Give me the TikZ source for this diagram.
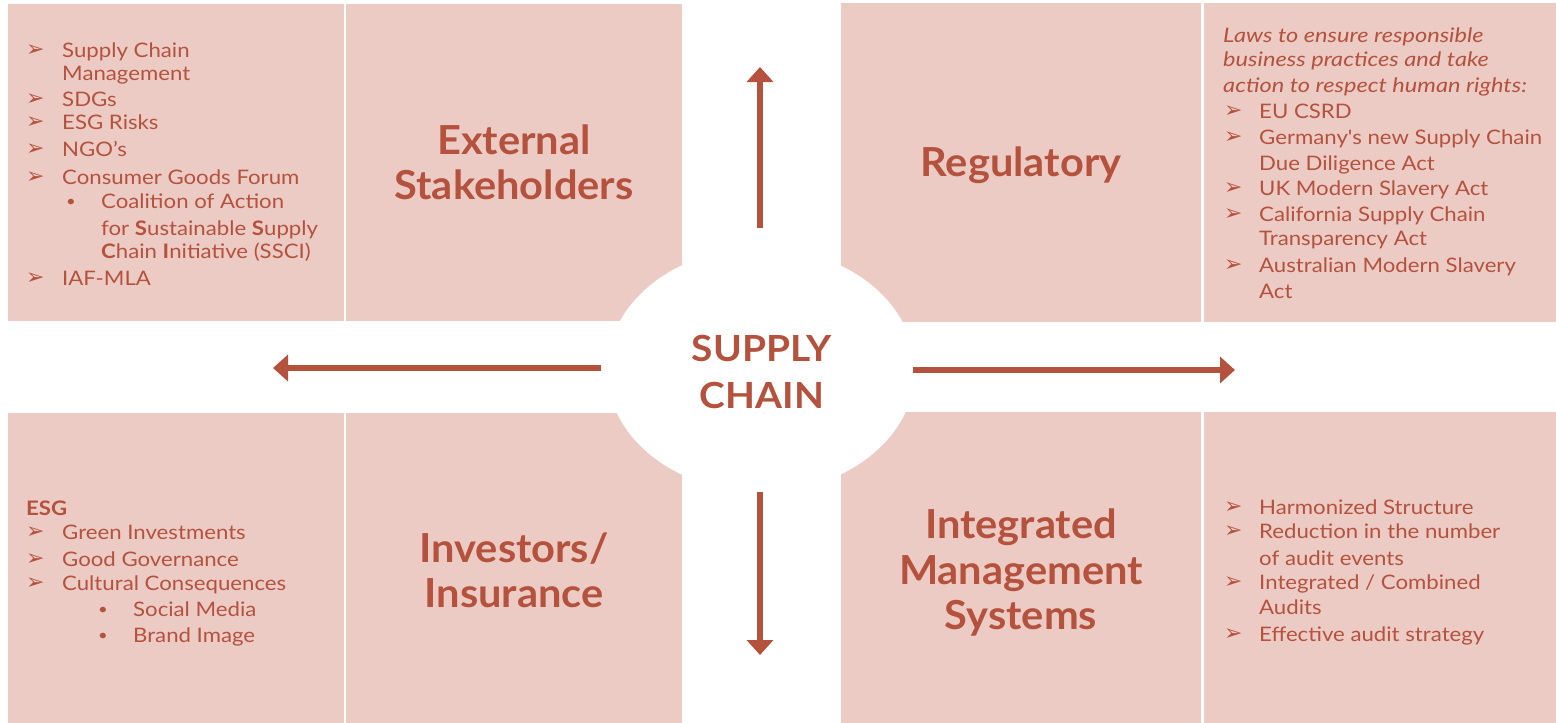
\documentclass[tikz,border=0pt]{standalone}
\usepackage{fontspec}
\setmainfont{Lato}
\newfontfamily\bodyfont{Lato}[FakeStretch=1.11]
\newfontfamily\itbodyfont{Lato}[FakeStretch=1.18]
\newfontfamily\headfont{Lato}[FakeStretch=1.04]
\newfontfamily\corefont{Lato}[FakeStretch=1.08]
\newfontfamily\symfont{DejaVu Sans}
\usetikzlibrary{arrows.meta,shapes.geometric}
\definecolor{boxc}{RGB}{236,203,197}
\definecolor{redc}{RGB}{180,82,62}
\tikzset{
  box/.style={fill=boxc, draw=none},
  txt/.style={text=redc, font=\bodyfont\fontsize{20}{24}\selectfont, anchor=base west, inner sep=0pt},
  itxt/.style={text=redc, font=\itbodyfont\itshape\fontsize{20}{24}\selectfont, anchor=base west, inner sep=0pt},
  btxt/.style={text=redc, font=\bodyfont\bfseries\fontsize{20}{24}\selectfont, anchor=base west, inner sep=0pt},
  mk/.style={text=redc, font=\symfont\fontsize{22}{24}\selectfont, anchor=base west, inner sep=0pt},
  dot/.style={text=redc, font=\bodyfont\fontsize{15}{18}\selectfont, anchor=base west, inner sep=0pt},
  head/.style={text=redc, font=\headfont\bfseries\fontsize{40}{48}\selectfont, anchor=base, inner sep=0pt},
  core/.style={text=redc, font=\corefont\bfseries\fontsize{36}{44}\selectfont, anchor=base, inner sep=0pt},
  conn/.style={draw=redc, line width=6pt, -{Triangle[length=15pt,width=26pt]}}
}
\begin{document}
\begin{tikzpicture}[x=1pt,y=-1pt]
\useasboundingbox (0,0) rectangle (1556,723);
% boxes
\path[box] (8,4) rectangle (344,321);
\path[box] (346,4) rectangle (682,321);
\path[box] (841,3) rectangle (1201,322);
\path[box] (1204,3) rectangle (1556,322);
\path[box] (8,413) rectangle (344,723);
\path[box] (346,413) rectangle (682,723);
\path[box] (841,412) rectangle (1201,723);
\path[box] (1204,412) rectangle (1556,723);
% centre
\node[ellipse, fill=white, draw=none, minimum width=308pt, minimum height=244pt, inner sep=0pt] (hub) at (761,370) {};
\node[core] (sc1) at (762,361) {SUPPLY};
\node[core] (sc2) at (762,408) {CHAIN};
% headings
\node[head] (h1a) at (514,154) {External};
\node[head] (h1b) at (514,199) {Stakeholders};
\node[head] (h2) at (1021,176) {Regulatory};
\node[head] (h3a) at (514,562) {Investors/};
\node[head] (h3b) at (514,607) {Insurance};
\node[head] (h4a) at (1021,538) {Integrated};
\node[head] (h4b) at (1021,584) {Management};
\node[head] (h4c) at (1021,629) {Systems};
% arrows
\coordinate (uS) at (760,228); \coordinate (uE) at (760,67);
\coordinate (dS) at (760,492); \coordinate (dE) at (760,655);
\coordinate (lS) at (601,368); \coordinate (lE) at (273,368);
\coordinate (rS) at (913,370); \coordinate (rE) at (1235,370);
\draw[conn] (uS) -- (uE);
\draw[conn] (dS) -- (dE);
\draw[conn] (lS) -- (lE);
\draw[conn] (rS) -- (rE);
% top-left list
\node[mk] (a1m) at (26,56.3) {➢}; \node[txt] (a1) at (62,57.3) {Supply Chain};
\node[txt] (a1b) at (62,80.3) {Management};
\node[mk] (a2m) at (26,105.7) {➢}; \node[txt] (a2) at (62,106.7) {SDGs};
\node[mk] (a3m) at (26,128.3) {➢}; \node[txt] (a3) at (62,129.3) {ESG Risks};
\node[mk] (a4m) at (26,155.7) {➢}; \node[txt] (a4) at (62,156.7) {NGO’s};
\node[mk] (a5m) at (26,183.3) {➢}; \node[txt] (a5) at (62,184.3) {Consumer Goods Forum};
\node[dot] (a6m) at (66,206.3) {•}; \node[txt] (a6) at (101,208.3) {Coalition of Action};
\node[txt] (a6b) at (101,235) {for \textbf{S}ustainable \textbf{S}upply};
\node[txt] (a6c) at (101,258.3) {\textbf{C}hain \textbf{I}nitiative (SSCI)};
\node[mk] (a7m) at (26,284.3) {➢}; \node[txt] (a7) at (62,285.3) {IAF-MLA};
% top-right list
\node[itxt] (b0a) at (1223,42.7) {Laws to ensure responsible};
\node[itxt] (b0b) at (1223,66.7) {business practices and take};
\node[itxt] (b0c) at (1223,92.7) {action to respect human rights:};
\node[mk] (b1m) at (1224,117.3) {➢}; \node[txt] (b1) at (1259,118.3) {EU CSRD};
\node[mk] (b2m) at (1224,143) {➢}; \node[txt] (b2) at (1259,144) {Germany{\char"27}s new Supply Chain};
\node[txt] (b2b) at (1259,170) {Due Diligence Act};
\node[mk] (b3m) at (1224,194) {➢}; \node[txt] (b3) at (1259,195) {UK Modern Slavery Act};
\node[mk] (b4m) at (1224,220.7) {➢}; \node[txt] (b4) at (1259,221.7) {California Supply Chain};
\node[txt] (b4b) at (1259,245.7) {Transparency Act};
\node[mk] (b5m) at (1224,271.7) {➢}; \node[txt] (b5) at (1259,272.7) {Australian Modern Slavery};
\node[txt] (b5b) at (1259,298.3) {Act};
% bottom-left list
\node[btxt] (c0) at (26,515) {ESG};
\node[mk] (c1m) at (26,538.3) {➢}; \node[txt] (c1) at (62,539.3) {Green Investments};
\node[mk] (c2m) at (26,565) {➢}; \node[txt] (c2) at (62,566) {Good Governance};
\node[mk] (c3m) at (26,589.7) {➢}; \node[txt] (c3) at (62,590.7) {Cultural Consequences};
\node[dot] (c4m) at (98,614) {•}; \node[txt] (c4) at (133,616) {Social Media};
\node[dot] (c5m) at (98,640.7) {•}; \node[txt] (c5) at (133,642.7) {Brand Image};
% bottom-right list
\node[mk] (d1m) at (1224,513.3) {➢}; \node[txt] (d1) at (1259,514.3) {Harmonized Structure};
\node[mk] (d2m) at (1224,537.3) {➢}; \node[txt] (d2) at (1259,538.3) {Reduction in the number};
\node[txt] (d2b) at (1259,565) {of audit events};
\node[mk] (d3m) at (1224,588.3) {➢}; \node[txt] (d3) at (1259,589.3) {Integrated / Combined};
\node[txt] (d3b) at (1259,614.3) {Audits};
\node[mk] (d4m) at (1224,640.7) {➢}; \node[txt] (d4) at (1259,641.7) {Effective audit strategy};
\end{tikzpicture}
\end{document}
